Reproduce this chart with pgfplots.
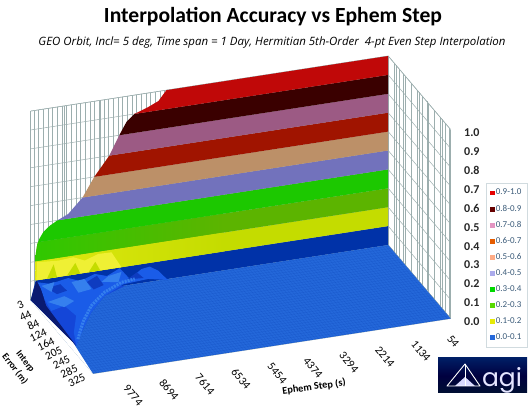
\documentclass[border=0pt]{standalone}
\usepackage{pgfplots}
\usepackage{fontspec}
\pgfplotsset{compat=1.18}
\setmainfont{Carlito}
\newfontfamily\subfont{Open Sans}
\newfontfamily\agifont{Poppins}
\definecolor{b9}{HTML}{C00808}
\definecolor{b8}{HTML}{3A0000}
\definecolor{b7}{HTML}{9C5A84}
\definecolor{b6}{HTML}{A01400}
\definecolor{b5}{HTML}{BC9068}
\definecolor{b4}{HTML}{7272BC}
\definecolor{b3}{HTML}{1CC800}
\definecolor{b2}{HTML}{5CB400}
\definecolor{b2l}{HTML}{30C800}
\definecolor{b1}{HTML}{C4DC00}
\definecolor{b1l}{HTML}{E0E810}
\definecolor{b0}{HTML}{0032A8}
\definecolor{floorc}{HTML}{2468DA}
\definecolor{leftc}{HTML}{1446D8}
\definecolor{lumpc}{HTML}{1A5CE8}
\definecolor{lightc}{HTML}{3580EE}
\definecolor{darkc}{HTML}{0E3CC0}
\definecolor{navy}{HTML}{0A1A70}
\definecolor{yel}{HTML}{EFF034}
\definecolor{gridc}{HTML}{9CAEAE}
\definecolor{legt}{HTML}{3A5A78}
\begin{document}
\begin{tikzpicture}[x=1pt,y=1pt]
\useasboundingbox (0,0) rectangle (528,409);
\begin{axis}[
  at={(388.2pt,164pt)}, anchor=origin,
  x={(-0.0333pt,-0.00512pt)}, y={(0.191pt,-0.225pt)}, z={(0pt,189pt)},
  xmin=54, xmax=10790, ymin=3, ymax=330, zmin=0, zmax=1,
  clip=false,
  scaled ticks=false,
  xtick={54,1134,2214,3294,4374,5454,6534,7614,8694,9774},
  ytick={3,44,84,124,164,205,245,285,325},
  ztick={0,0.1,...,1},
  minor xtick={54,194,...,10790},
  minor ytick={3,33,...,330},
  grid=both,
  grid style={gridc,line width=0.5pt},
  minor grid style={gridc,line width=0.5pt},
  axis line style={gridc,line width=0.5pt},
  tick style={draw=none},
  /pgf/number format/assume math mode=true,
  /pgf/number format/fixed,
  /pgf/number format/fixed zerofill,
  /pgf/number format/precision=1,
  xticklabels={54,1134,2214,3294,4374,5454,6534,7614,8694,9774},
  yticklabels={3,44,84,124,164,205,245,285,325},
  xticklabel style={font=\fontsize{11.5}{12}\selectfont,rotate=-50,anchor=west,yshift=-12.6pt,xshift=9.5pt},
  yticklabel style={font=\fontsize{11.5}{12}\selectfont,rotate=25,anchor=east,xshift=-5.1pt,yshift=-0.5pt},
  zticklabel style={font=\fontsize{12}{13}\selectfont\bfseries,text=black!85,xshift=10pt,yshift=1pt},
  zticklabel pos=right,
]
% wall bands
\addplot3[fill=b0,draw=none,forget plot] coordinates {(54,3,0)(54,3,0.1)(10640,3,0.1)(10790,3,0)} -- cycle;
\addplot3[fill=b1,draw=none,forget plot] coordinates {(54,3,0.1)(54,3,0.2)(10650,3,0.2)(10640,3,0.1)} -- cycle;
\addplot3[fill=b2,draw=none,forget plot] coordinates {(54,3,0.2)(54,3,0.3)(10569,3,0.3)(10593,3,0.288)(10635,3,0.243)(10650,3,0.2)} -- cycle;
\addplot3[draw=none,left color=b2l,right color=b2,forget plot] coordinates {(5000,3,0.2)(5000,3,0.3)(10569,3,0.3)(10593,3,0.288)(10635,3,0.243)(10650,3,0.2)} -- cycle;
\addplot3[draw=none,left color=b1l,right color=b1,forget plot] coordinates {(5000,3,0.1)(5000,3,0.2)(10650,3,0.2)(10640,3,0.1)} -- cycle;
\addplot3[fill=b3,draw=none,forget plot] coordinates {(54,3,0.3)(54,3,0.4)(9984,3,0.4)(10215,3,0.378)(10413,3,0.349)(10533,3,0.316)(10569,3,0.3)} -- cycle;
\addplot3[fill=b4,draw=none,forget plot] coordinates {(54,3,0.4)(54,3,0.5)(9234,3,0.5)(9663,3,0.425)(9984,3,0.4)} -- cycle;
\addplot3[fill=b5,draw=none,forget plot] coordinates {(54,3,0.5)(54,3,0.6)(8880,3,0.6)(9234,3,0.5)} -- cycle;
\addplot3[fill=b6,draw=none,forget plot] coordinates {(54,3,0.6)(54,3,0.7)(8430,3,0.7)(8880,3,0.6)} -- cycle;
\addplot3[fill=b7,draw=none,forget plot] coordinates {(54,3,0.7)(54,3,0.8)(8130,3,0.8)(8430,3,0.7)} -- cycle;
\addplot3[fill=b8,draw=none,forget plot] coordinates {(54,3,0.8)(54,3,0.9)(7674,3,0.9)(7914,3,0.864)(8130,3,0.8)} -- cycle;
\addplot3[fill=b9,draw=none,forget plot] coordinates {(54,3,0.9)(54,3,1)(6714,3,1)(6954,3,0.949)(7254,3,0.926)(7674,3,0.9)} -- cycle;
% bright yellow ridge with streaks
\addplot3[fill=yel,draw=none,forget plot] coordinates {(10620,3,0.1)(10593,3,0.195)(9963,3,0.186)(9513,3,0.192)(9165,3,0.165)(8763,3,0.189)(8364,3,0.187)(8064,3,0.1)} -- cycle;
\addplot3[fill=b1,draw=none,forget plot] coordinates {(10300,3,0.1)(10100,3,0.17)(10000,3,0.1)} -- cycle;
\addplot3[fill=b1,draw=none,forget plot] coordinates {(9700,3,0.1)(9450,3,0.16)(9300,3,0.1)} -- cycle;
\addplot3[fill=b1,draw=none,forget plot] coordinates {(9050,3,0.1)(8850,3,0.15)(8700,3,0.1)} -- cycle;
% floor
\addplot3[fill=floorc,draw=none,forget plot] coordinates {(54,3,0)(10790,3,0)(10790,330,0)(54,330,0)} -- cycle;
\pgfplotsinvokeforeach{8,18,...,328}{
  \addplot3[draw=b0,opacity=0.2,line width=0.35pt,forget plot] coordinates {(54,#1,0)(10790,#1,0)};
}
\pgfplotsinvokeforeach{144,234,...,10790}{
  \addplot3[draw=b0,opacity=0.2,line width=0.35pt,forget plot] coordinates {(#1,3,0)(#1,330,0)};
}
% rough region at long step, small error
\addplot3[fill=leftc,draw=none,forget plot] coordinates {(10790,3,0)(10612,210,0)(10057,149,0)(9460,88,0)(8732,31,0)(7937,3,0)} -- cycle;
\addplot3[fill=white,draw=none,forget plot] coordinates {(10800,3,0)(10622,195,0)(10800,330,0)} -- cycle;
\addplot3[fill=lumpc,draw=none,forget plot] coordinates {(10584,3,0.088)(10200,3,0.07)(9663,3,0.086)(9300,3,0.06)(8865,3,0.086)(8500,3,0.065)(8115,3,0.096)(7815,3,0.031)(7464,3,0.074)(7215,3,0.08)(6963,3,0.052)(6694,7,0)(7263,3,0.016)(8001,3,0.008)(8732,31,0)(9460,88,0)(10057,149,0)(10612,210,0)(10371,156,0)(9935,92,0)(10021,46,0)(10487,58,0)(10401,7,0)(10485,3,0.05)} -- cycle;
% darker hollows among the peaks
\addplot3[fill=darkc,draw=none,forget plot] coordinates {(10300,3,0.05)(9900,3,0.06)(9700,3,0.02)(10000,3,0.01)} -- cycle;
\addplot3[fill=darkc,draw=none,forget plot] coordinates {(9100,3,0.05)(8800,3,0.075)(8600,3,0.02)(8900,3,0.005)} -- cycle;
\addplot3[fill=darkc,draw=none,forget plot] coordinates {(7900,3,0.03)(7600,3,0.06)(7400,3,0.025)} -- cycle;
% lighter peaks
\addplot3[fill=lightc,draw=none,forget plot] coordinates {(10377,21,0)(9809,8,0)(9657,33,0)(10057,51,0)} -- cycle;
\addplot3[fill=lightc,draw=none,forget plot] coordinates {(10464,3,0.066)(10074,3,0.076)(10164,3,0.026)} -- cycle;
\addplot3[fill=lightc,draw=none,forget plot] coordinates {(9564,3,0.062)(9174,3,0.068)(8964,3,0.009)(9354,3,0)} -- cycle;
\addplot3[fill=lightc,draw=none,forget plot] coordinates {(8664,3,0.038)(8454,3,0.064)(8064,3,0.075)(8154,3,0.024)} -- cycle;
\addplot3[draw=lightc,line width=3pt,dash pattern=on 2pt off 1pt,forget plot] coordinates {(10415,185,0)(9906,122,0)(9311,62,0)(8656,17,0)(8064,3,0.02)(7665,3,0.027)};
\addplot3[fill=navy,draw=none,forget plot] coordinates {(10790,3,0)(10614,3,0.098)(10485,3,0.05)(10507,35,0)(10612,210,0)(10622,195,0)} -- cycle;
\end{axis}
% legend
\begin{axis}[
  at={(486pt,62pt)}, anchor=south west, width=41pt, height=164pt, scale only axis,
  hide axis, xmin=0, xmax=1, ymin=0, ymax=1,
  legend style={at={(0.1,0.5)},anchor=west,draw=none,fill=none,inner sep=0pt,outer sep=0pt,
    font=\fontsize{9}{9}\selectfont,text=legt,row sep=4.6pt,
    legend cell align=left, cells={anchor=west,text=legt},
    /tikz/every even column/.append style={column sep=1pt}},
  legend image post style={mark size=1.9pt},
]
\addlegendimage{only marks,mark=square*,color=red!90!black}
\addlegendentry{0.9-1.0}
\addlegendimage{only marks,mark=square*,color=red!40!black}
\addlegendentry{0.8-0.9}
\addlegendimage{only marks,mark=square*,color=magenta!45!white!80!gray}
\addlegendentry{0.7-0.8}
\addlegendimage{only marks,mark=square*,color=orange!80!red!90!black}
\addlegendentry{0.6-0.7}
\addlegendimage{only marks,mark=square*,color=orange!30!pink}
\addlegendentry{0.5-0.6}
\addlegendimage{only marks,mark=square*,color=blue!30!white!85!gray}
\addlegendentry{0.4-0.5}
\addlegendimage{only marks,mark=square*,color=green!85!black}
\addlegendentry{0.3-0.4}
\addlegendimage{only marks,mark=square*,color=green!60!yellow!85!black}
\addlegendentry{0.2-0.3}
\addlegendimage{only marks,mark=square*,color=yellow!90!green}
\addlegendentry{0.1-0.2}
\addlegendimage{only marks,mark=square*,color=floorc}
\addlegendentry{0.0-0.1}
\end{axis}
\draw[cyan!20!gray!35,line width=0.7pt] (486,62) rectangle (527,226);
% title
\node at (273,392) {\resizebox{338pt}{!}{\bfseries Interpolation Accuracy vs Ephem Step}};
\node at (272,366) {\resizebox{467pt}{!}{\subfont\itshape GEO Orbit, Incl= 5 deg, Time span = 1 Day, Hermitian 5th-Order~ 4-pt Even Step Interpolation}};
\node[rotate=8,font=\fontsize{10.3}{11}\selectfont\bfseries] at (314,22) {Ephem Step (s)};
\node[rotate=-52,font=\fontsize{9.5}{10}\selectfont\bfseries] at (25,47) {Interp};
\node[rotate=-52,font=\fontsize{9.5}{10}\selectfont\bfseries] at (15,40) {Error (m)};
% logo
\shade[top color=b0!60!black,bottom color=b0!30!black,middle color=black!75!blue] (438,16) rectangle (527,51);
\fill[white!85!blue] (455,23) -- (465,32) -- (475,23) -- cycle;
\draw[white,line width=0.9pt,line join=round] (447,23) -- (465,45) -- (480,23) -- cycle;
\draw[white,line width=0.6pt] (465,45) -- (465,23);
\node[text=white!90!blue,font=\fontsize{25}{25}\selectfont\agifont,anchor=base] at (502,22) {agi};
\end{tikzpicture}
\end{document}
